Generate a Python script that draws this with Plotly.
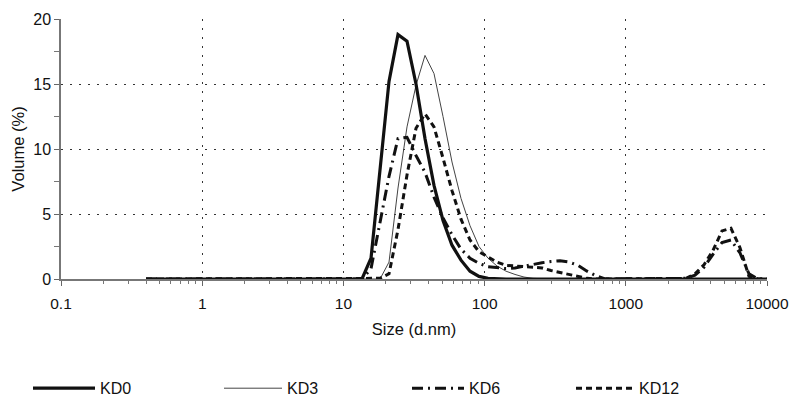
import plotly.graph_objects as go

# Malvern size bins (d.nm)
sizes = [0.4, 0.4632, 0.5365, 0.6213, 0.7195, 0.8332, 0.9649, 1.117, 1.294, 1.499,
         1.736, 2.01, 2.328, 2.696, 3.122, 3.615, 4.187, 4.849, 5.615, 6.503,
         7.531, 8.721, 10.1, 11.7, 13.54, 15.69, 18.17, 21.04, 24.36, 28.21,
         32.67, 37.84, 43.82, 50.75, 58.77, 68.06, 78.82, 91.28, 105.7, 122.4,
         141.8, 164.2, 190.1, 220.2, 255.0, 295.3, 342.0, 396.1, 458.7, 531.2,
         615.1, 712.4, 825.0, 955.4, 1106, 1281, 1484, 1718, 1990, 2305,
         2669, 3091, 3580, 4145, 4801, 5560, 6439, 7456, 8635, 10000]

kd0 = [0] * 25 + [1.6, 8.4, 15.2, 18.8, 18.3, 15.0, 10.8, 7.2, 4.5, 2.6,
                  1.45, 0.6, 0.2, 0.05] + [0] * 31

kd3 = [0] * 27 + [1.3, 7.0, 11.7, 14.9, 17.2, 15.8, 12.5, 9.0, 6.2, 4.1,
                  2.5, 1.6, 1.0, 0.6, 0.35, 0.15, 0.05] + [0] * 26

kd6 = [0] * 25 + [0.8, 4.5, 7.9, 10.8, 10.9, 9.5, 8.2, 6.3, 4.7, 3.4,
                  2.3, 1.6, 1.2, 0.95, 0.85, 0.8, 0.85, 1.0, 1.15, 1.25,
                  1.35, 1.4, 1.3, 1.05, 0.6, 0.25] + [0] * 9 + \
      [0.05, 0.3, 0.9, 1.9, 2.8, 3.0, 2.0, 0.4, 0, 0]

kd12 = [0] * 26 + [0.05, 0.4, 3.8, 8.0, 11.6, 12.7, 11.7, 9.3, 6.8, 4.6,
                   3.0, 2.1, 1.7, 1.3, 1.05, 1.0, 1.0, 0.95, 0.85, 0.65,
                   0.5, 0.3, 0.15, 0.05] + [0] * 10 + \
       [0.05, 0.4, 1.1, 2.2, 3.7, 3.9, 2.4, 0.2, 0, 0]

series_names = ["KD0", "KD3", "KD6", "KD12"]
series_values = [kd0, kd3, kd6, kd12]

x_tick_vals = [0.1, 1, 10, 100, 1000, 10000]
x_tick_text = ["0.1", "1", "10", "100", "1000", "10000"]
y_tick_vals = [0, 5, 10, 15, 20]

styles = {
    "KD0": dict(color="#111111", width=3.2, dash="solid"),
    "KD3": dict(color="#444444", width=1.0, dash="solid"),
    "KD6": dict(color="#111111", width=3.0, dash="11px,5px,2px,5px"),
    "KD12": dict(color="#111111", width=3.0, dash="6px,4px"),
}
legend_ids = {"KD0": "legend", "KD3": "legend2", "KD6": "legend3", "KD12": "legend4"}
legend_x_px = {"KD0": 28, "KD3": 219, "KD6": 407, "KD12": 571}
item_widths = {"KD0": 62, "KD3": 58, "KD6": 52, "KD12": 58}

# the page body margin is removed (post_script), so page pixels == figure pixels
W, H = 792, 402
L, T = 61, 19
pw, ph = 706, 260.5
R = W - L - pw
B = H - T - ph

fig = go.Figure()
draw_order = ["KD3", "KD12", "KD6", "KD0"]
for name in draw_order:
    vals = series_values[series_names.index(name)]
    fig.add_trace(go.Scatter(x=sizes, y=vals, mode="lines", name=name,
                             line=styles[name], legend=legend_ids[name]))

leg_common = dict(orientation="h", yanchor="middle", xanchor="left",
                  bgcolor="rgba(0,0,0,0)",
                  font=dict(family="Liberation Sans, Arial, sans-serif", size=16, color="#111"))
layout_legends = {}
for name in series_names:
    d = dict(leg_common)
    d.update(x=(legend_x_px[name] - L) / pw,
             y=(T + ph - 389) / ph,
             itemwidth=item_widths[name])
    layout_legends[legend_ids[name]] = d

minor_x = [m * 10 ** e for e in range(-1, 4) for m in range(2, 10)]

fig.update_layout(
    width=W, height=H,
    margin=dict(l=L, r=R, t=T, b=B, autoexpand=False),
    paper_bgcolor="white", plot_bgcolor="white",
    font=dict(family="Liberation Sans, Arial, sans-serif", size=15, color="#111"),
    showlegend=True,
    **layout_legends,
)

grid_common = dict(showgrid=True, gridcolor="#333", griddash="2px,7px", gridwidth=1.3)

fig.update_xaxes(
    type="log", range=[-1, 4],
    tickvals=x_tick_vals, ticktext=x_tick_text,
    ticks="outside", ticklen=5, tickcolor="#666", tickwidth=1,
    ticklabelstandoff=5,
    showline=True, linecolor="#777", linewidth=1.5,
    zeroline=False,
    minor=dict(tickvals=minor_x, ticks="outside", ticklen=3, tickcolor="#777", showgrid=False),
    title=dict(text="Size (d.nm)", font=dict(size=16.5), standoff=12),
    tickfont=dict(size=15.5),
    **grid_common,
)
fig.update_yaxes(
    range=[0, 20], tickvals=y_tick_vals,
    ticks="outside", ticklen=5, tickcolor="#666", tickwidth=1,
    showline=True, linecolor="#777", linewidth=1.5,
    zeroline=False,
    minor=dict(dtick=2.5, ticks="outside", ticklen=5, tickcolor="#777", showgrid=False),
    title=dict(text="Volume (%)", font=dict(size=16.5), standoff=4),
    tickfont=dict(size=16),
    **grid_common,
)

fig.write_html(
    "out.html",
    config={"displayModeBar": False},
    post_script="document.body.style.margin='0';document.body.style.overflow='hidden';",
)
